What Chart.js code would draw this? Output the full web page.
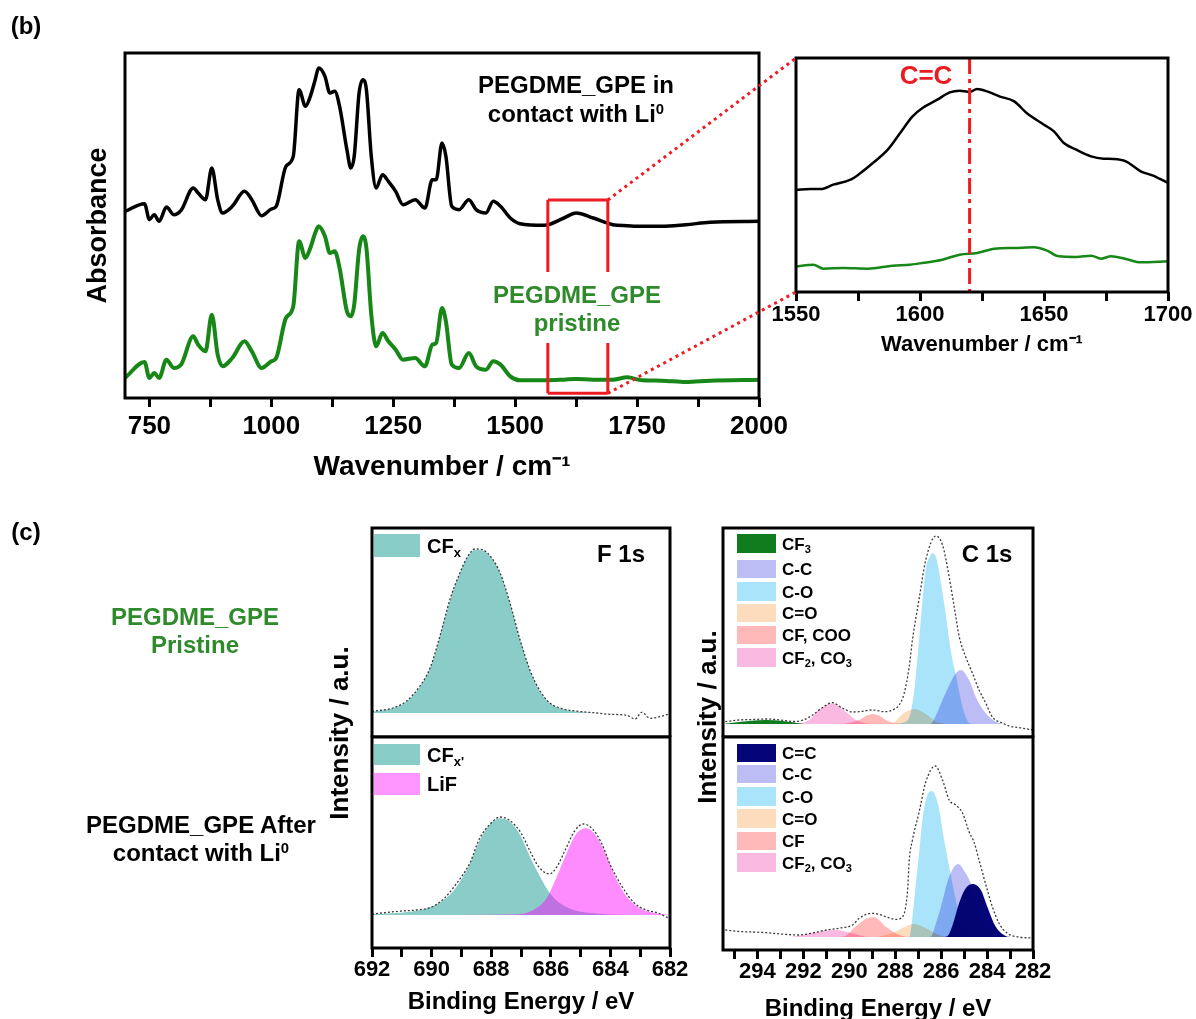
<!DOCTYPE html>
<html>
<head>
<meta charset="utf-8">
<script src="https://cdn.jsdelivr.net/npm/chart.js@4.4.1/dist/chart.umd.min.js"></script>
<style>
  html, body { margin: 0; padding: 0; overflow: hidden; background: #fff; }
  body { width: 1196px; height: 1019px; position: relative; font-family: "Liberation Sans", Arial, sans-serif; font-weight: bold; color: #000; }
  canvas { position: absolute; }
  .t { position: absolute; white-space: nowrap; line-height: 1; transform: translate(-50%, -50%); }
  .rot { transform: translate(-50%, -50%) rotate(-90deg); }
  .green { color: #2e8a2a; }
  .sw { position: absolute; }
  .lb { position: absolute; white-space: nowrap; line-height: 1; transform: translateY(-50%); }
  sub { font-size: 0.65em; vertical-align: -0.3em; line-height: 0; }
  sup { font-size: 0.62em; vertical-align: 0.55em; line-height: 0; }
  #links { position: absolute; left: 0; top: 0; pointer-events: none; }
</style>
</head>
<body>

<canvas id="ftir"></canvas>
<canvas id="inset"></canvas>
<canvas id="f1sTop"></canvas>
<canvas id="f1sBot"></canvas>
<canvas id="c1sTop"></canvas>
<canvas id="c1sBot"></canvas>
<svg id="links" width="1196" height="1019"></svg>

<div class="t" style="left:26px;top:26px;font-size:24px">(b)</div>
<div class="t" style="left:26px;top:532px;font-size:24px">(c)</div>

<div class="t" style="left:576px;top:85px;font-size:24px">PEGDME_GPE in</div>
<div class="t" style="left:576px;top:114px;font-size:24px">contact with Li<sup>0</sup></div>
<div class="t green" style="left:577px;top:295px;font-size:24px">PEGDME_GPE</div>
<div class="t green" style="left:577px;top:323px;font-size:24px">pristine</div>
<div class="t" style="left:926px;top:75px;font-size:26px;color:#ea1c22">C=C</div>

<div class="t green" style="left:195px;top:617px;font-size:24px">PEGDME_GPE</div>
<div class="t green" style="left:195px;top:645px;font-size:24px">Pristine</div>
<div class="t" style="left:201px;top:825px;font-size:24px">PEGDME_GPE After</div>
<div class="t" style="left:201px;top:853px;font-size:24px">contact with Li<sup>0</sup></div>

<div class="t rot" style="left:339px;top:733px;font-size:26px">Intensity / a.u.</div>
<div class="t rot" style="left:707px;top:717px;font-size:26px">Intensity / a.u.</div>

<div class="t" style="left:621px;top:554px;font-size:24px">F 1s</div>
<div class="t" style="left:987px;top:554px;font-size:24px">C 1s</div>

<div id="legends"></div>

<script>
// FTIR, full range (wavenumber / cm-1, absorbance a.u.)
const ftirWavenumber = [700, 740, 750, 760, 770, 785, 800, 815, 840, 850, 865, 878, 890, 900, 920, 945, 960, 980, 1000, 1010,
  1030, 1045, 1057, 1070, 1080, 1090, 1097, 1110, 1120, 1130, 1140, 1155, 1163, 1170, 1180, 1188, 1195, 1205, 1215, 1228,
  1240, 1255, 1270, 1295, 1315, 1330, 1338, 1350, 1358, 1370, 1385, 1405, 1420, 1440, 1455, 1470, 1490, 1510, 1560, 1600,
  1625, 1660, 1700, 1730, 1760, 1800, 1850, 1900, 2000];
const ftirLiContact = [56, 58.3, 53.5, 55, 53, 57.3, 55, 56.3, 63, 61.5, 59.5, 69, 59.5, 55.5, 57.5, 62, 59.5, 54.7, 56.7, 57.5,
  69.5, 72.5, 92.5, 87.5, 90.5, 95.5, 99, 96.5, 91.5, 92, 87.5, 74.5, 69, 72.5, 91.5, 95.5, 92.5, 72.5, 63, 67,
  65, 62, 58, 59.5, 57, 65.5, 65.5, 76.5, 72.5, 57.5, 56.5, 59.5, 56.5, 55.5, 59, 57.5, 54, 52.3, 51.8, 54,
  55.5, 54, 52, 51.7, 51.5, 51.5, 52, 52.7, 53];
const ftirPristine = [6, 10.8, 6, 7.5, 6, 11.5, 9, 10, 18.5, 16, 14, 25, 13, 9.5, 12, 17, 14, 9, 11, 12,
  24, 27.5, 47, 42, 45, 49.5, 51.5, 48.5, 43.5, 44, 39, 26, 24.5, 28, 44.5, 48.5, 45, 25, 15.5, 19.5,
  17, 14.5, 11.5, 12, 9.5, 16, 16.5, 27, 23, 10, 9, 13.5, 9.5, 8.5, 11, 10, 6.5, 5.3, 5.3, 5.5,
  5.7, 5.5, 5.5, 6.2, 5.3, 5.2, 4.8, 5.2, 5.5];
const ftirTicks = [750, 875, 1000, 1125, 1250, 1375, 1500, 1625, 1750, 1875, 2000];
const ftirLabels = [750, 1000, 1250, 1500, 1750, 2000];
const zoomRange = [1567, 1690];

// FTIR inset, 1550-1700 cm-1
const insetWnLi = [1550, 1556, 1560, 1565, 1572, 1576, 1581, 1587, 1592, 1597, 1601, 1607, 1612, 1616, 1620, 1623,
  1627, 1632, 1638, 1643, 1650, 1654, 1658, 1663, 1669, 1674, 1678, 1683, 1689, 1694, 1700];
const insetLi = [30.7, 30.9, 30.9, 32.2, 33.7, 35.7, 38.7, 42.7, 47.7, 52.7, 55.2, 57.7, 59.9, 60.4, 60, 60.9,
  60.2, 58.7, 57.2, 53.7, 50.2, 48.2, 44.7, 42.7, 40.7, 40, 39.9, 39.2, 36.2, 34.9, 32.7];
const insetWnPristine = [1550, 1557, 1561, 1569, 1579, 1589, 1596, 1601, 1609, 1616, 1623, 1630, 1638, 1646, 1651,
  1656, 1663, 1669, 1673, 1677, 1683, 1689, 1700];
const insetPristine = [7.7, 8.2, 7, 7.2, 7, 7.9, 8.2, 8.7, 9.7, 11.2, 11.7, 13, 13.2, 13.4, 12.5,
  10.7, 10.5, 10.9, 10, 10.7, 9.9, 8.9, 9.2];
const insetTicks = [1550, 1575, 1600, 1625, 1650, 1675, 1700];
const insetLabels = [1550, 1600, 1650, 1700];
const ccMarker = 1620;

// XPS F 1s, pristine
const f1sTopBE = [692, 691.3, 690.84, 690.39, 690.05, 689.72, 689.38, 689.05, 688.82, 688.54, 688.27, 687.98, 687.7,
  687.37, 687.03, 686.7, 686.36, 686.03, 685.58, 685.02, 684.35, 682];
const f1sTopCFx = [1.3, 4.7, 11.3, 26.3, 44.7, 76.3, 113, 139.7, 154.7, 163, 162.3, 154.7, 139.7,
  109.7, 73, 43, 21.3, 9.7, 3.7, 1, 0, 0];
const f1sTopRawBE = [692, 691.3, 690.84, 690.39, 690.05, 689.72, 689.38, 689.05, 688.82, 688.54, 688.27, 687.98, 687.7,
  687.37, 687.03, 686.7, 686.36, 686.03, 685.58, 685.02, 684.57, 684.01, 683.45, 683.17, 682.95, 682.67, 682.34, 682.06];
const f1sTopRaw = [1.5, 5, 12, 27, 45, 77, 114, 140, 155, 164, 163, 155, 140,
  110, 73, 43, 22, 10, 4, 1.5, 0.3, -1.3, -2.3, -6, 0.7, -5.3, -3.7, -1.3];

// XPS F 1s, after contact with Li
const f1sBotCFxBE = [692, 690.72, 690.16, 689.6, 689.16, 688.71, 688.38, 688.04, 687.7, 687.37, 687.03, 686.7,
  686.36, 686.03, 685.69, 685.24, 684.57, 683.45, 682];
const f1sBotCFx = [0.7, 3.3, 6.7, 15, 28.3, 51.7, 75, 90.7, 96.7, 93.3, 80, 58.3, 38.3, 21.7, 11.7, 5, 1.7, 0, 0];
const f1sBotLiFBE = [690, 688, 687.14, 686.59, 686.14, 685.8, 685.47, 685.13, 684.8, 684.46, 684.12, 683.79,
  683.45, 683.0, 682.56, 682.06];
const f1sBotLiF = [0, 0.3, 0.7, 5, 16.7, 38.3, 61.7, 81.7, 86.7, 78.3, 58.3, 35, 18.3, 6.7, 2.3, 0.3];
const f1sBotRawBE = [692, 691, 690.5, 690, 689.6, 689.2, 688.7, 688.4, 688.0, 687.7, 687.4, 687.0, 686.7, 686.4,
  686.05, 685.8, 685.5, 685.2, 684.9, 684.6, 684.3, 684.0, 683.6, 683.2, 682.8, 682.4, 682];
const f1sBotRaw = [1, 4, 5, 8, 16, 30, 53, 76, 92, 98, 95, 82, 64, 48, 41, 48, 66, 84, 91, 86, 72, 50, 28, 12, 5, 2, -4];
const f1sTicks = [682, 683, 684, 685, 686, 687, 688, 689, 690, 691, 692];
const f1sLabels = [682, 684, 686, 688, 690, 692];

// XPS C 1s, pristine
const c1sTopCF3BE = [295.4, 295.07, 294.35, 293.62, 292.9, 292.2, 292.0];
const c1sTopCF3 = [0.5, 1.3, 3, 4, 3, 0.7, 0];
const c1sTopCF2BE = [292.5, 292.19, 291.75, 291.32, 290.74, 290.16, 289.72, 289.28, 289.0];
const c1sTopCF2 = [0, 0.3, 4, 14, 20.7, 12.3, 4, 0.7, 0];
const c1sTopCFBE = [290.3, 289.57, 289.28, 288.99, 288.7, 288.41, 287.97, 287.7];
const c1sTopCF = [0, 4, 8, 10, 8.5, 4, 0.5, 0];
const c1sTopCdOBE = [288.4, 288.12, 287.68, 287.17, 286.67, 286.23, 285.8];
const c1sTopCdO = [0, 0.7, 10, 15, 10, 2.3, 0];
const c1sTopCOBE = [288.0, 287.5, 287.32, 287.17, 286.96, 286.67, 286.5, 286.38, 286.2, 286.0, 285.8, 285.65,
  285.5, 285.36, 285.15, 284.95, 284.78, 284.6];
const c1sTopCO = [0, 3, 12, 34, 84, 155, 167, 170.7, 165, 140, 110, 84, 63, 49, 25, 8, 1, 0];
const c1sTopCCBE = [286.6, 286.45, 286.2, 285.94, 285.58, 285.36, 285.15, 284.78, 284.49, 284.06, 283.62, 283.2];
const c1sTopCC = [0, 0.3, 10, 24, 42, 50.7, 54, 44, 27, 10.7, 2.3, 0];
const c1sTopRawBE = [295.4, 294.8, 294.2, 293.6, 293.0, 292.4, 292.0, 291.6, 291.2, 290.74, 290.3, 289.86, 289.57,
  288.99, 288.41, 288.12, 287.83, 287.61, 287.39, 287.25, 286.96, 286.67, 286.23, 285.94, 285.65, 285.36, 285.22,
  284.93, 284.64, 284.35, 284.06, 283.77, 283.33, 283.04, 282.5, 282.0];
const c1sTopRaw = [2.3, 4, 4.5, 5, 4, 2.5, 4, 9, 16, 21.3, 16, 12, 12.3, 14, 12.3, 14, 19, 30.7, 57.3, 84,
  125, 164, 188, 179, 147, 107, 88, 67, 51, 34, 21, 7, 1, -2, -4, -6];

// XPS C 1s, after contact with Li
const c1sBotCCdBE = [285.9, 285.72, 285.5, 285.22, 284.93, 284.64, 284.27, 283.99, 283.62, 283.19, 283.0];
const c1sBotCCd = [0, 1, 12, 33.7, 48.7, 53, 47, 30.3, 10.3, 1, 0];
const c1sBotCCBE = [286.6, 286.45, 286.25, 286.01, 285.65, 285.26, 284.93, 284.71, 284.35, 283.91, 283.48, 283.3];
const c1sBotCC = [0, 0.3, 12, 30.3, 60.3, 73, 63.7, 53.7, 27, 7, 0.3, 0];
const c1sBotCOBE = [287.6, 287.39, 287.25, 287.1, 286.96, 286.81, 286.67, 286.52, 286.38, 286.23, 286.09, 285.87,
  285.58, 285.36, 285.15, 284.93, 284.64];
const c1sBotCO = [0, 0.3, 20, 54, 84, 118, 137, 145, 146, 140, 128, 97, 62, 37, 17, 5, 0];
const c1sBotCdOBE = [288.8, 288.41, 287.97, 287.6, 287.17, 286.85, 286.52, 286.09, 285.8];
const c1sBotCdO = [0, 2, 5.3, 10, 13, 11, 7, 2, 0];
const c1sBotCFBE = [290.5, 290.16, 289.72, 289.28, 288.91, 288.41, 287.97, 287.54, 287.3];
const c1sBotCF = [0, 1.3, 10.7, 18, 19.7, 10.3, 3.7, 0.3, 0];
const c1sBotCF2BE = [292.6, 292.19, 291.46, 290.6, 289.86, 289.3, 289.0];
const c1sBotCF2 = [0, 1.3, 4.7, 7, 3.7, 0.3, 0];
const c1sBotRawBE = [295.4, 294.8, 294.2, 293.6, 293.0, 292.2, 291.5, 291.0, 290.4, 289.86, 289.57, 289.2, 288.99,
  288.7, 288.41, 287.97, 287.68, 287.46, 287.39, 287.25, 286.96, 286.67, 286.26, 285.94, 285.65, 285.36, 285.07,
  284.78, 284.57, 284.35, 283.99, 283.77, 283.48, 283.12, 282.61, 282.0];
const c1sBotRaw = [7, 5.5, 5, 4.3, 3, 2, 4.5, 7, 9, 12, 18.7, 23, 23.7, 22.5, 20.3, 17.7, 20.3, 47, 77, 97,
  125, 155, 171, 157, 137, 132, 124, 105, 95, 77, 47, 30.3, 13.7, 3.7, 0, -1];
const c1sTicks = [282, 283, 284, 285, 286, 287, 288, 289, 290, 291, 292, 293, 294, 295];
const c1sLabels = [282, 284, 286, 288, 290, 292, 294];

// colours
const teal = "#8acdc8";
const lifFill = "rgba(255, 0, 255, 0.45)";
const cf3Col = "#0f7d1e";
const ccCol = "#bdbdf5";
const coCol = "#aae4fa";
const cdoCol = "#fddcbe";
const cfCol = "#ffb9b9";
const cf2Col = "#fab9e1";
const ccdCol = "#050578";
const red = "#ee1c22";
const ftirGreen = "#178717";

Chart.defaults.font.family = '"Liberation Sans", Arial, sans-serif';
Chart.defaults.font.weight = "bold";
Chart.defaults.color = "#000";

function pts(xs, ys) {
  return xs.map((x, i) => ({ x: x, y: ys[i] }));
}

function place(id, frame, pad) {
  const c = document.getElementById(id);
  c.width = frame.r - frame.l + pad.l + pad.r;
  c.height = frame.b - frame.t + pad.t + pad.b;
  c.style.left = frame.l - pad.l + "px";
  c.style.top = frame.t - pad.t + "px";
  return c;
}

// black box round the plot area
const framePlugin = {
  id: "frame",
  afterDraw(chart) {
    const { ctx, chartArea: a } = chart;
    ctx.save();
    ctx.lineWidth = 3;
    ctx.strokeStyle = "#000";
    ctx.strokeRect(a.left, a.top, a.right - a.left, a.bottom - a.top);
    ctx.restore();
  },
};

// overlapping fit components darken each other
const multiplyPlugin = {
  id: "multiply",
  beforeDatasetsDraw(chart) {
    chart.ctx.save();
    chart.ctx.globalCompositeOperation = "multiply";
  },
  afterDatasetsDraw(chart) {
    chart.ctx.restore();
  },
};

function bottomAxis(o) {
  return {
    type: "linear",
    min: o.min,
    max: o.max,
    reverse: !!o.reverse,
    afterBuildTicks: (s) => {
      s.ticks = o.ticks.map((v) => ({ value: v }));
    },
    afterFit: (s) => {
      s.height = o.height;
    },
    ticks: {
      autoSkip: false,
      maxRotation: 0,
      padding: o.pad,
      font: { size: o.size, weight: "bold" },
      color: "#000",
      callback: (v) => (o.labels.includes(v) ? String(v) : ""),
    },
    grid: { drawOnChartArea: false, drawTicks: true, tickLength: 9, lineWidth: 3, tickWidth: 3, color: "#000" },
    border: { display: false },
    title: {
      display: true,
      text: o.title,
      color: "#000",
      font: { size: o.titleSize, weight: "bold" },
      padding: { top: 0, bottom: o.titlePad },
    },
  };
}

const baseOptions = {
  responsive: false,
  animation: false,
  devicePixelRatio: 1,
  events: [],
  plugins: { legend: { display: false }, tooltip: { enabled: false } },
};

function area(xs, ys, color, order) {
  return {
    data: pts(xs, ys),
    fill: "origin",
    backgroundColor: color,
    borderColor: "rgba(0,0,0,0)",
    borderWidth: 1,
    pointRadius: 0,
    cubicInterpolationMode: "monotone",
    order: order,
  };
}

function rawLine(xs, ys) {
  return {
    data: pts(xs, ys),
    fill: false,
    borderColor: "#3a3a3a",
    borderWidth: 1.3,
    borderDash: [2, 2],
    pointRadius: 0,
    cubicInterpolationMode: "monotone",
    order: -1,
  };
}

// Start FTIR main chart

const ftirFrame = { l: 125, t: 53, r: 759, b: 398 };
const ftirCanvas = place("ftir", ftirFrame, { l: 60, r: 45, t: 10, b: 100 });

const zoomBoxPlugin = {
  id: "zoomBox",
  afterDatasetsDraw(chart) {
    const { ctx } = chart;
    const xs = chart.scales.x;
    const ys = chart.scales.y;
    const x1 = xs.getPixelForValue(zoomRange[0]);
    const x2 = xs.getPixelForValue(zoomRange[1]);
    const yTop = ys.getPixelForValue(59.4);
    const yBot = ys.getPixelForValue(1.4);
    const gapTop = ys.getPixelForValue(37.8);
    const gapBot = ys.getPixelForValue(16.5);
    ctx.save();
    ctx.strokeStyle = red;
    ctx.lineWidth = 3;
    ctx.beginPath();
    ctx.moveTo(x1, yTop); ctx.lineTo(x2, yTop);
    ctx.moveTo(x1, yBot); ctx.lineTo(x2, yBot);
    [x1, x2].forEach(function (x) {
      ctx.moveTo(x, yTop); ctx.lineTo(x, gapTop);
      ctx.moveTo(x, gapBot); ctx.lineTo(x, yBot);
    });
    ctx.stroke();
    ctx.restore();
  },
};

const ftirChart = new Chart(ftirCanvas, {
  type: "line",
  data: {
    datasets: [
      { data: pts(ftirWavenumber, ftirLiContact), borderColor: "#000", borderWidth: 3.5, pointRadius: 0, cubicInterpolationMode: "monotone", fill: false },
      { data: pts(ftirWavenumber, ftirPristine), borderColor: ftirGreen, borderWidth: 4, pointRadius: 0, cubicInterpolationMode: "monotone", fill: false },
    ],
  },
  options: Object.assign({}, baseOptions, {
    layout: { padding: { left: 0, right: 45, top: 10, bottom: 0 } },
    scales: {
      x: bottomAxis({ min: 700, max: 2000, ticks: ftirTicks, labels: ftirLabels, size: 26, pad: 4, height: 100,
        title: "Wavenumber / cm\u207B\u00B9", titleSize: 28, titlePad: 14 }),
      y: {
        min: 0,
        max: 103.5,
        ticks: { display: false },
        grid: { display: false },
        border: { display: false },
        afterFit: (s) => { s.width = 60; },
        title: { display: true, text: "Absorbance", color: "#000", font: { size: 27, weight: "bold" }, padding: { top: 17, bottom: 0 } },
      },
    },
  }),
  plugins: [framePlugin, zoomBoxPlugin],
});

// End FTIR main chart

// Start FTIR inset

const insetFrame = { l: 796, t: 58, r: 1168, b: 292 };
const insetCanvas = place("inset", insetFrame, { l: 35, r: 28, t: 10, b: 70 });

const markerPlugin = {
  id: "marker",
  afterDatasetsDraw(chart) {
    const { ctx, chartArea: a } = chart;
    const x = chart.scales.x.getPixelForValue(ccMarker);
    ctx.save();
    ctx.strokeStyle = red;
    ctx.lineWidth = 3;
    ctx.setLineDash([16, 5, 4, 5]);
    ctx.beginPath();
    ctx.moveTo(x, a.top);
    ctx.lineTo(x, a.bottom);
    ctx.stroke();
    ctx.restore();
  },
};

const insetChart = new Chart(insetCanvas, {
  type: "line",
  data: {
    datasets: [
      { data: pts(insetWnLi, insetLi), borderColor: "#000", borderWidth: 2.5, pointRadius: 0, cubicInterpolationMode: "monotone", fill: false },
      { data: pts(insetWnPristine, insetPristine), borderColor: ftirGreen, borderWidth: 2.5, pointRadius: 0, cubicInterpolationMode: "monotone", fill: false },
    ],
  },
  options: Object.assign({}, baseOptions, {
    layout: { padding: { left: 35, right: 28, top: 10, bottom: 0 } },
    scales: {
      x: bottomAxis({ min: 1550, max: 1700, ticks: insetTicks, labels: insetLabels, size: 22, pad: 1, height: 70,
        title: "Wavenumber / cm\u207B\u00B9", titleSize: 22, titlePad: 4 }),
      y: { min: 0, max: 70.2, display: false },
    },
  }),
  plugins: [framePlugin, markerPlugin],
});

// End FTIR inset

// Start XPS panels

function xpsChart(id, frame, pad, x, yRange, datasets, plugins) {
  const canvas = place(id, frame, pad);
  return new Chart(canvas, {
    type: "line",
    data: { datasets: datasets },
    options: Object.assign({}, baseOptions, {
      layout: { padding: { left: pad.l, right: pad.r, top: pad.t, bottom: 0 } },
      scales: {
        x: x,
        y: { min: yRange[0], max: yRange[1], display: false },
      },
    }),
    plugins: plugins,
  });
}

xpsChart("f1sTop", { l: 372, t: 528, r: 670, b: 737 }, { l: 30, r: 30, t: 10, b: 0 },
  { type: "linear", min: 682, max: 692, reverse: true, display: false }, [-24, 185],
  [area(f1sTopBE, f1sTopCFx, teal, 2), rawLine(f1sTopRawBE, f1sTopRaw)],
  [framePlugin]);

xpsChart("f1sBot", { l: 372, t: 737, r: 670, b: 948 }, { l: 30, r: 30, t: 5, b: 70 },
  bottomAxis({ min: 682, max: 692, reverse: true, ticks: f1sTicks, labels: f1sLabels, size: 22, pad: 0, height: 70,
    title: "Binding Energy / eV", titleSize: 24, titlePad: 1 }), [-33, 178],
  [area(f1sBotCFxBE, f1sBotCFx, teal, 2), area(f1sBotLiFBE, f1sBotLiF, lifFill, 1), rawLine(f1sBotRawBE, f1sBotRaw)],
  [framePlugin]);

xpsChart("c1sTop", { l: 723, t: 528, r: 1033, b: 737 }, { l: 30, r: 30, t: 10, b: 0 },
  { type: "linear", min: 282, max: 295.5, reverse: true, display: false }, [-13, 196],
  [
    area(c1sTopCF3BE, c1sTopCF3, cf3Col, 6),
    area(c1sTopCF2BE, c1sTopCF2, cf2Col, 5),
    area(c1sTopCFBE, c1sTopCF, cfCol, 4),
    area(c1sTopCdOBE, c1sTopCdO, cdoCol, 3),
    area(c1sTopCOBE, c1sTopCO, coCol, 2),
    area(c1sTopCCBE, c1sTopCC, ccCol, 1),
    rawLine(c1sTopRawBE, c1sTopRaw),
  ],
  [multiplyPlugin, framePlugin]);

xpsChart("c1sBot", { l: 723, t: 737, r: 1033, b: 950 }, { l: 30, r: 30, t: 5, b: 80 },
  bottomAxis({ min: 282, max: 295.5, reverse: true, ticks: c1sTicks, labels: c1sLabels, size: 22, pad: 0, height: 80,
    title: "Binding Energy / eV", titleSize: 24, titlePad: 6 }), [-13, 200],
  [
    area(c1sBotCF2BE, c1sBotCF2, cf2Col, 6),
    area(c1sBotCFBE, c1sBotCF, cfCol, 5),
    area(c1sBotCdOBE, c1sBotCdO, cdoCol, 4),
    area(c1sBotCOBE, c1sBotCO, coCol, 3),
    area(c1sBotCCBE, c1sBotCC, ccCol, 2),
    area(c1sBotCCdBE, c1sBotCCd, ccdCol, 1),
    rawLine(c1sBotRawBE, c1sBotRaw),
  ],
  [multiplyPlugin, framePlugin]);

// End XPS panels

// Start legends

const legendBlocks = [
  { x: 374, w: 46, textX: 427, size: 20, rows: [
    { top: 534, h: 23, color: teal, text: "CF<sub>x</sub>" } ] },
  { x: 374, w: 46, textX: 427, size: 20, rows: [
    { top: 744, h: 21, color: teal, text: "CF<sub>x'</sub>" },
    { top: 773, h: 22, color: "#ff96ff", text: "LiF" } ] },
  { x: 737, w: 39, textX: 782, size: 17, rows: [
    { top: 534, h: 19, color: cf3Col, text: "CF<sub>3</sub>" },
    { top: 560, h: 18, color: ccCol, text: "C-C" },
    { top: 582, h: 19, color: coCol, text: "C-O" },
    { top: 604, h: 18, color: cdoCol, text: "C=O" },
    { top: 626, h: 18, color: cfCol, text: "CF, COO" },
    { top: 648, h: 19, color: cf2Col, text: "CF<sub>2</sub>, CO<sub>3</sub>" } ] },
  { x: 737, w: 39, textX: 782, size: 17, rows: [
    { top: 744, h: 18, color: ccdCol, text: "C=C" },
    { top: 765, h: 18, color: ccCol, text: "C-C" },
    { top: 787, h: 19, color: coCol, text: "C-O" },
    { top: 809, h: 19, color: cdoCol, text: "C=O" },
    { top: 832, h: 18, color: cfCol, text: "CF" },
    { top: 853, h: 19, color: cf2Col, text: "CF<sub>2</sub>, CO<sub>3</sub>" } ] },
];

const legendHost = document.getElementById("legends");
legendBlocks.forEach(function (block) {
  block.rows.forEach(function (row) {
    const sw = document.createElement("div");
    sw.className = "sw";
    sw.style.cssText = "left:" + block.x + "px;top:" + row.top + "px;width:" + block.w + "px;height:" + row.h + "px;background:" + row.color;
    legendHost.appendChild(sw);
    const lb = document.createElement("div");
    lb.className = "lb";
    lb.style.cssText = "left:" + block.textX + "px;top:" + (row.top + row.h / 2) + "px;font-size:" + block.size + "px";
    lb.innerHTML = row.text;
    legendHost.appendChild(lb);
  });
});

// End legends

// Start zoom connectors

const svg = document.getElementById("links");
function link(x1, y1, x2, y2) {
  const l = document.createElementNS("http://www.w3.org/2000/svg", "line");
  l.setAttribute("x1", x1);
  l.setAttribute("y1", y1);
  l.setAttribute("x2", x2);
  l.setAttribute("y2", y2);
  l.setAttribute("stroke", red);
  l.setAttribute("stroke-width", 3);
  l.setAttribute("stroke-dasharray", "3 4");
  svg.appendChild(l);
}

const mx = ftirCanvas.offsetLeft;
const my = ftirCanvas.offsetTop;
const boxRight = mx + ftirChart.scales.x.getPixelForValue(zoomRange[1]);
const boxTop = my + ftirChart.scales.y.getPixelForValue(59.4);
const boxBottom = my + ftirChart.scales.y.getPixelForValue(1.4);
const ia = insetChart.chartArea;
link(boxRight, boxTop, insetCanvas.offsetLeft + ia.left, insetCanvas.offsetTop + ia.top);
link(boxRight, boxBottom, insetCanvas.offsetLeft + ia.left, insetCanvas.offsetTop + ia.bottom);

// End zoom connectors
</script>
</body>
</html>
